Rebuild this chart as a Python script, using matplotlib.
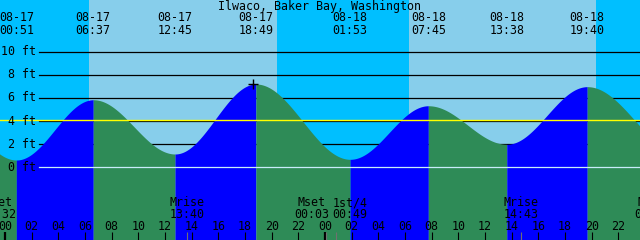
import matplotlib
matplotlib.use("Agg")
import matplotlib.pyplot as plt
import numpy as np
from matplotlib import transforms

# ---------------- data ----------------
title = "Ilwaco, Baker Bay, Washington"

tide_dates = ["08-16", "08-17", "08-17", "08-17", "08-17", "08-18", "08-18", "08-18", "08-18", "08-19"]
tide_clock = ["18:00", "00:51", "06:37", "12:45", "18:49", "01:53", "07:45", "13:38", "19:40", "02:55"]
tide_heights = [7.2, 0.63, 5.84, 1.15, 7.2, 0.69, 5.32, 1.99, 6.97, 1.0]

sun_rise = ["08-17 06:19", "08-18 06:20"]
sun_set = ["08-17 20:22", "08-18 20:20"]

moon_names = ["Mset", "Mrise", "Mset", "1st/4", "Mrise", "Mset"]
moon_dates = ["08-16", "08-17", "08-18", "08-18", "08-18", "08-19"]
moon_clock = ["23:32", "13:40", "00:03", "00:49", "14:43", "00:31"]

now_stamp = "08-17 18:37"
msl_level = 4.08
grid_levels = [0, 2, 4, 6, 8, 10]

# ---------------- helpers ----------------
def hours(date, clock):
    day = int(date[3:]) - 17
    hh, mm = clock.split(":")
    return 24 * day + int(hh) + int(mm) / 60.0

def hours_s(stamp):
    d, c = stamp.split()
    return hours(d, c)

T = np.array([hours(d, c) for d, c in zip(tide_dates, tide_clock)])
Hh = np.array(tide_heights)

def level(t):
    t = np.atleast_1d(t)
    out = np.empty_like(t, dtype=float)
    for k, tt in enumerate(t):
        i = np.searchsorted(T, tt) - 1
        i = min(max(i, 0), len(T) - 2)
        f = (tt - T[i]) / (T[i + 1] - T[i])
        out[k] = Hh[i] + (Hh[i + 1] - Hh[i]) * (1 - np.cos(np.pi * f)) / 2
    return out

# ---------------- layout ----------------
W, H = 640, 240
PX_PER_H = 13.333
X0 = 5.0
FT0_Y = 167.3
PX_PER_FT = 11.57

fig = plt.figure(figsize=(6.4, 2.4), dpi=100)
ax = fig.add_axes([0, 0, 1, 1])
ax.set_xlim(-X0 / PX_PER_H, (W - X0) / PX_PER_H)
ax.set_ylim(-(H - FT0_Y) / PX_PER_FT, FT0_Y / PX_PER_FT)
ax.axis("off")

NIGHT = "#00BFFF"
DAY = "#87CEEB"
FLOOD = "#0000FF"
EBB = "#2E8B57"

def fy(py):
    return 1 - py / H

bt = transforms.blended_transform_factory(ax.transData, ax.transAxes)
bt_y = transforms.blended_transform_factory(ax.transAxes, ax.transData)

FONT = dict(family="DejaVu Sans Mono", fontsize=8.4, color="black")

# background
ax.axvspan(*ax.get_xlim(), color=NIGHT, zorder=0, lw=0)
for r, s in zip(sun_rise, sun_set):
    ax.axvspan(hours_s(r), hours_s(s), color=DAY, zorder=0.5, lw=0)

# gridlines + labels
for g in grid_levels:
    if g != 0:
        ax.axhline(g, xmin=39 / W, xmax=1, color="black", lw=0.9, zorder=1)
    ax.text(36 / W, g, f"{g} ft", transform=bt_y, ha="right", va="center", zorder=5, **FONT)

# tide curve fill
bottom = ax.get_ylim()[0]
for i in range(len(T) - 1):
    ts = np.linspace(T[i], T[i + 1], 300)
    col = FLOOD if Hh[i + 1] > Hh[i] else EBB
    ax.fill_between(ts, bottom, level(ts), color=col, lw=0, zorder=2, antialiased=False)

# datum and MSL lines
ax.axhline(0, xmin=39 / W, xmax=1, color="#c8ecfa", lw=0.9, zorder=3)
ax.axhline(msl_level, color="#FFFF00", lw=1.0, zorder=3)

# now marker
tn = hours_s(now_stamp)
ax.plot([tn], level(tn), marker="+", color="black", ms=7, mew=1.0, zorder=4)

# title
ax.text(0.5 - 1 / W, fy(10), title, transform=ax.transAxes, ha="center", va="baseline", **FONT)

# tide labels
for t, d, c in zip(T, tide_dates, tide_clock):
    ax.text(t, fy(20.7), d, transform=bt, ha="center", va="baseline", **FONT)
    ax.text(t, fy(33.5), c, transform=bt, ha="center", va="baseline", **FONT)

# hour ticks
for hh in range(0, 48, 2):
    lw = 1.6 if hh % 24 == 0 else 0.8
    ax.plot([hh, hh], [0, 8 / H], transform=bt, color="black", lw=lw, zorder=4, solid_capstyle="butt")
    ax.text(hh, fy(230), f"{hh % 24:02d}", transform=bt, ha="center", va="baseline", zorder=5, **FONT)

# moon events
mt = np.array([hours(d, c) for d, c in zip(moon_dates, moon_clock)])
pos = mt.copy()
MIN_SEP = 38 / PX_PER_H
for i in range(len(pos) - 1):
    gap = pos[i + 1] - pos[i]
    if gap < MIN_SEP:
        shift = (MIN_SEP - gap) / 2
        pos[i] -= shift
        pos[i + 1] += shift
for t, p, n, c in zip(mt, pos, moon_names, moon_clock):
    ax.plot([t, t], [0, 8 / H], transform=bt, color="#707070", lw=0.8, zorder=4, solid_capstyle="butt")
    ax.text(p, fy(206), n, transform=bt, ha="center", va="baseline", zorder=5, **FONT)
    ax.text(p, fy(217.5), c, transform=bt, ha="center", va="baseline", zorder=5, **FONT)

fig.savefig("out.png", dpi=100)
